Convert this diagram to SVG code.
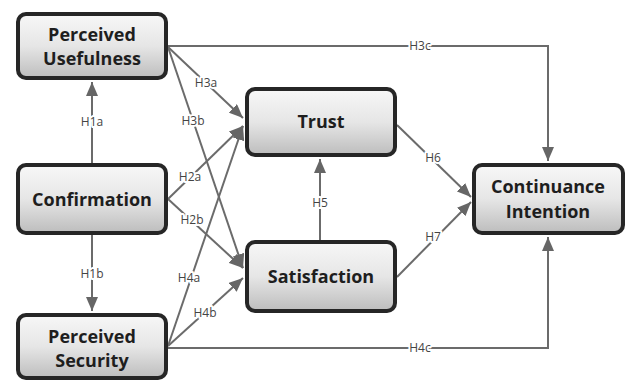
<svg xmlns="http://www.w3.org/2000/svg" width="629" height="383" viewBox="0 0 629 383">
<style>
.box{fill:url(#g);stroke:#262626;stroke-width:4}
.t{font-family:"Open Sans","DejaVu Sans",sans-serif;font-weight:bold;font-size:18px;fill:#1e1e1e;text-anchor:middle}
.c{fill:none;stroke:#6b6b6b;stroke-width:2;marker-end:url(#a)}
.l{font-family:"Open Sans","DejaVu Sans",sans-serif;font-size:12px;fill:#444;text-anchor:middle;stroke:#fff;stroke-width:4;paint-order:stroke;stroke-linejoin:round}
</style>
<defs>
<linearGradient id="g" x1="0" y1="0" x2="0" y2="1">
<stop offset="0" stop-color="#f7f7f7"/>
<stop offset="0.5" stop-color="#e6e6e6"/>
<stop offset="1" stop-color="#bdbdbd"/>
</linearGradient>
<marker id="a" markerUnits="userSpaceOnUse" markerWidth="15" markerHeight="12" refX="14" refY="6" orient="auto">
<path d="M0,0 L14,6 L0,12 z" fill="#666"/>
</marker>
</defs>
<g id="connectors">
<path class="c" d="M92,163 V82"/>
<path class="c" d="M92,235 V311"/>
<path class="c" d="M168,46 H548 V161"/>
<path class="c" d="M168,348 H548 V237"/>
<path class="c" d="M168,47 L243,118"/>
<path class="c" d="M168,47 L243,268"/>
<path class="c" d="M168,199 L243,126"/>
<path class="c" d="M168,199 L243,268"/>
<path class="c" d="M168,346 L243,126"/>
<path class="c" d="M168,346 L243,278"/>
<path class="c" d="M320,240 V159"/>
<path class="c" d="M397,125 L471,197"/>
<path class="c" d="M397,277 L471,202"/>
<text class="l" x="92" y="126">H1a</text>
<text class="l" x="92" y="278">H1b</text>
<text class="l" x="420" y="50">H3c</text>
<text class="l" x="420" y="352">H4c</text>
<text class="l" x="206" y="87">H3a</text>
<text class="l" x="193" y="125">H3b</text>
<text class="l" x="190" y="181">H2a</text>
<text class="l" x="192" y="224">H2b</text>
<text class="l" x="189" y="282">H4a</text>
<text class="l" x="205" y="317">H4b</text>
<text class="l" x="320" y="207">H5</text>
<text class="l" x="433" y="162">H6</text>
<text class="l" x="433" y="241">H7</text>
</g>
<g id="pu"><rect class="box" x="18" y="14" width="148" height="64" rx="8"/><text class="t" x="92" y="41">Perceived</text><text class="t" x="92" y="65">Usefulness</text></g>
<g id="conf"><rect class="box" x="18" y="165" width="148" height="68" rx="8"/><text class="t" x="92" y="206">Confirmation</text></g>
<g id="ps"><rect class="box" x="18" y="315" width="148" height="63" rx="8"/><text class="t" x="92" y="343">Perceived</text><text class="t" x="92" y="367">Security</text></g>
<g id="trust"><rect class="box" x="247" y="89" width="148" height="66" rx="8"/><text class="t" x="321" y="128">Trust</text></g>
<g id="sat"><rect class="box" x="247" y="242" width="148" height="69" rx="8"/><text class="t" x="321" y="283">Satisfaction</text></g>
<g id="ci"><rect class="box" x="474" y="165" width="149" height="68" rx="8"/><text class="t" x="548" y="193">Continuance</text><text class="t" x="548" y="218">Intention</text></g>
</svg>
